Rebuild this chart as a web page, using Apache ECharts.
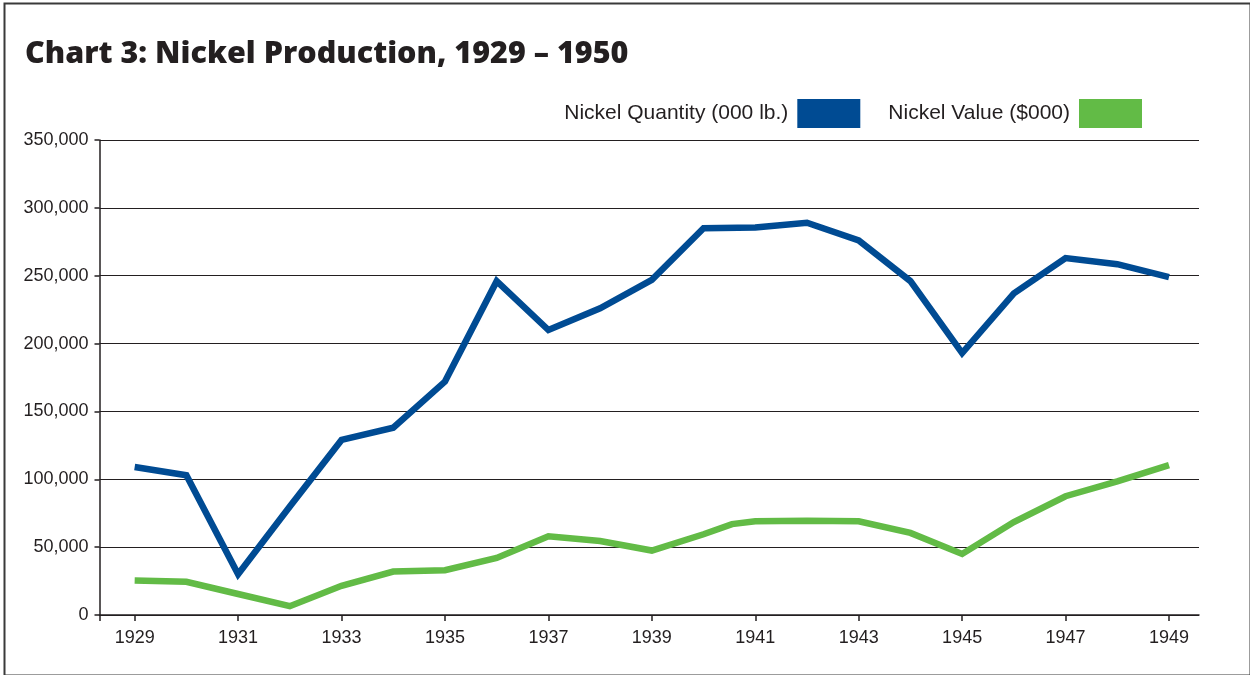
<!DOCTYPE html>
<html>
<head>
<meta charset="utf-8">
<title>Chart 3: Nickel Production, 1929 – 1950</title>
<script src="https://cdn.jsdelivr.net/npm/echarts@6/dist/echarts.min.js"></script>
<style>
	html, body { margin: 0; padding: 0; background: #fff; }
	#chartCont { width: 1250px; height: 675px; }
</style>
</head>
<body>
<div id="chartCont"></div>
<script>
// quantity, 000 lb.
var years = [1929, 1930, 1931, 1932, 1933, 1934, 1935, 1936, 1937, 1938, 1939,
	1940, 1941, 1942, 1943, 1944, 1945, 1946, 1947, 1948, 1949];
var quantity = [109000, 103000, 30000, 80000, 129000, 138000, 172000, 246000, 210000, 226000, 247000,
	285000, 285500, 289000, 276000, 246000, 193000, 237000, 263000, 258500, 249000];

// value, $000 (line has an extra bend just after 1940)
var valueYears = [1929, 1930, 1931, 1932, 1933, 1934, 1935, 1936, 1937, 1938, 1939,
	1940, 1940.55, 1941, 1942, 1943, 1944, 1945, 1946, 1947, 1948, 1949];
var values = [25500, 24500, 15500, 6500, 21500, 32000, 33000, 42000, 58000, 54500, 47500,
	59500, 67000, 69000, 69500, 69000, 60500, 45000, 68500, 87500, 98500, 110500];

var yearLabels = [1929, 1931, 1933, 1935, 1937, 1939, 1941, 1943, 1945, 1947, 1949];
var seriesNames = ['Nickel Quantity (000 lb.)', 'Nickel Value ($000)'];

var labelFont = "'Liberation Sans', sans-serif";

function pairs(xs, ys) {
	var out = [];
	for (var i = 0; i < xs.length; i++) out.push([xs[i], ys[i]]);
	return out;
}

var xMin = 1928.32, xMax = 1949.58;

var option = {
	animation: false,
	backgroundColor: '#fff',
	title: {
		text: 'Chart 3: Nickel Production, 1929 – 1950',
		left: 25,
		top: 39,
		padding: 0,
		textStyle: {
			fontFamily: "'Open Sans', sans-serif",
			fontWeight: 800,
			fontSize: 30.5,
			color: '#231f20'
		}
	},
	legend: {
		right: 108,
		top: 99,
		padding: 0,
		align: 'right',
		icon: 'rect',
		itemWidth: 63,
		itemHeight: 29,
		itemGap: 28,
		data: seriesNames,
		textStyle: {
			fontFamily: labelFont,
			fontSize: 21,
			color: '#231f20',
			padding: [0, 4, 0, 0]
		}
	},
	grid: {
		left: 99.5,
		right: 51,
		top: 140,
		bottom: 60
	},
	xAxis: {
		type: 'value',
		min: xMin,
		max: xMax,
		splitLine: { show: false },
		axisLine: { lineStyle: { color: '#231f20', width: 1.5 } },
		axisTick: {
			show: true,
			length: 6,
			customValues: [xMin].concat(yearLabels),
			lineStyle: { color: '#231f20', width: 1.5 }
		},
		axisLabel: {
			customValues: yearLabels,
			margin: 14,
			fontFamily: labelFont,
			fontSize: 18,
			color: '#231f20',
			formatter: function (v) {
				return String(Math.round(v));
			}
		}
	},
	yAxis: {
		type: 'value',
		min: 0,
		max: 350000,
		interval: 50000,
		axisLine: { show: true, lineStyle: { color: '#231f20', width: 1.5 } },
		axisTick: { show: true, length: 5, lineStyle: { color: '#231f20', width: 1.5 } },
		splitLine: { lineStyle: { color: '#231f20', width: 1.2 } },
		axisLabel: {
			margin: 11,
			fontFamily: labelFont,
			fontSize: 18,
			color: '#231f20',
			formatter: function (v) {
				return v.toLocaleString('en-US');
			}
		}
	},
	series: [
		{
			name: seriesNames[0],
			type: 'line',
			data: pairs(years, quantity),
			showSymbol: false,
			color: '#004b93',
			lineStyle: { width: 6.5, color: '#004b93', join: 'miter' }
		},
		{
			name: seriesNames[1],
			type: 'line',
			data: pairs(valueYears, values),
			showSymbol: false,
			color: '#62bb46',
			lineStyle: { width: 6.5, color: '#62bb46', join: 'miter' }
		}
	],
	graphic: [
		{
			type: 'rect',
			left: 2,
			top: 1,
			shape: { width: 1246, height: 672 },
			style: { fill: 'none', stroke: '#3a3a3a', lineWidth: 2 },
			silent: true
		}
	]
};

var chartCont = document.getElementById('chartCont');
var chart = echarts.init(chartCont);
chart.setOption(option);
</script>
</body>
</html>
